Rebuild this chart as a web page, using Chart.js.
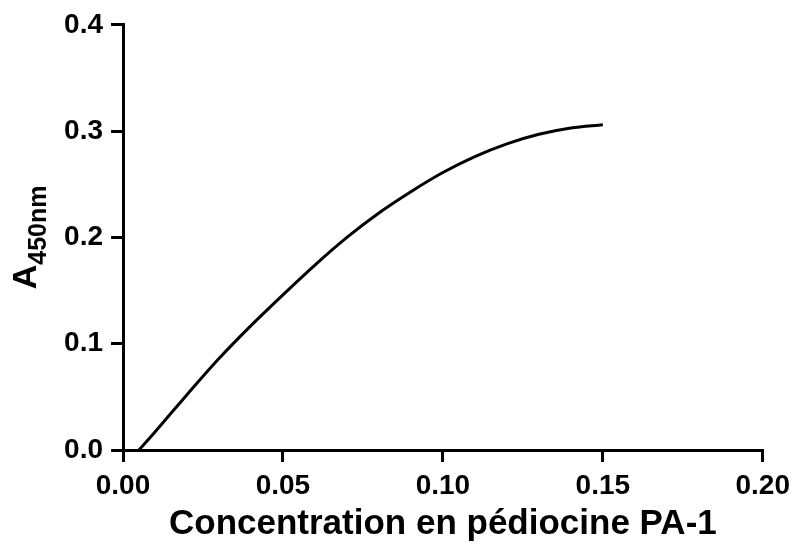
<!DOCTYPE html>
<html>
<head>
<meta charset="utf-8">
<script src="https://cdn.jsdelivr.net/npm/chart.js@4"></script>
<style>
  html, body { margin: 0; padding: 0; background: #fff; }
  #wrap { width: 797px; height: 549px; }
</style>
</head>
<body>
<div id="wrap"><canvas id="chartA450"></canvas></div>
<script>
// concentration (x) and absorbance (y)
const concentration = [0.005, 0.01, 0.02, 0.03, 0.04, 0.05, 0.06, 0.07, 0.08, 0.09, 0.10, 0.11, 0.12, 0.13, 0.14, 0.15];
const absorbance    = [0.000, 0.017, 0.052, 0.086, 0.117, 0.146, 0.174, 0.200, 0.223, 0.243, 0.261, 0.276, 0.288, 0.297, 0.303, 0.306];
const xTicks = [0.00, 0.05, 0.10, 0.15, 0.20];
const yTicks = [0.0, 0.1, 0.2, 0.3, 0.4];

const fontFam = '"Liberation Sans", Arial, sans-serif';

const yTitle = {
  id: 'yTitle',
  afterDraw(chart) {
    const c = chart.ctx;
    const area = chart.chartArea;
    c.save();
    c.translate(36, (area.top + area.bottom) / 2);
    c.rotate(-Math.PI / 2);
    c.fillStyle = '#000';
    c.textBaseline = 'alphabetic';
    c.font = 'bold 34px ' + fontFam;
    const wA = c.measureText('A').width;
    c.font = 'bold 25px ' + fontFam;
    const wS = c.measureText('450nm').width;
    let x0 = -(wA + wS) / 2;
    c.font = 'bold 34px ' + fontFam;
    c.fillText('A', x0, 0);
    c.font = 'bold 25px ' + fontFam;
    c.fillText('450nm', x0 + wA, 10);
    c.restore();
  }
};

const ctx = document.getElementById('chartA450');

new Chart(ctx, {
  type: 'line',
  data: {
    datasets: [{
      data: concentration.map((x, i) => ({ x: x, y: absorbance[i] })),
      borderColor: '#000',
      borderWidth: 3,
      pointRadius: 0,
      fill: false,
      cubicInterpolationMode: 'monotone'
    }]
  },
  options: {
    responsive: true,
    maintainAspectRatio: false,
    animation: false,
    layout: { padding: { left: 50, top: 22, right: 33, bottom: 0 } },
    plugins: { legend: { display: false }, tooltip: { enabled: false } },
    scales: {
      x: {
        type: 'linear',
        min: 0, max: 0.2,
        afterBuildTicks: (s) => { s.ticks = xTicks.map(v => ({ value: v })); },
        afterFit: (s) => { s.height = 99; },
        border: { color: '#000', width: 3 },
        grid: { drawOnChartArea: false, color: '#000', lineWidth: 3, tickLength: 12 },
        ticks: {
          color: '#000',
          padding: 7,
          font: { family: fontFam, size: 28, weight: 'bold' },
          maxRotation: 0,
          callback: (v) => v.toFixed(2)
        },
        title: {
          display: true,
          text: 'Concentration en pédiocine PA-1',
          color: '#000',
          padding: { top: 0, bottom: 4 },
          font: { family: fontFam, size: 35, weight: 'bold' }
        }
      },
      y: {
        min: 0, max: 0.4,
        afterBuildTicks: (s) => { s.ticks = yTicks.map(v => ({ value: v })); },
        afterFit: (s) => { s.width = 73; },
        border: { color: '#000', width: 3 },
        grid: { drawOnChartArea: false, color: '#000', lineWidth: 3, tickLength: 12 },
        ticks: {
          color: '#000',
          padding: 8,
          font: { family: fontFam, size: 28, weight: 'bold' },
          callback: (v) => v.toFixed(1)
        }
      }
    }
  },
  plugins: [yTitle]
});
</script>
</body>
</html>
